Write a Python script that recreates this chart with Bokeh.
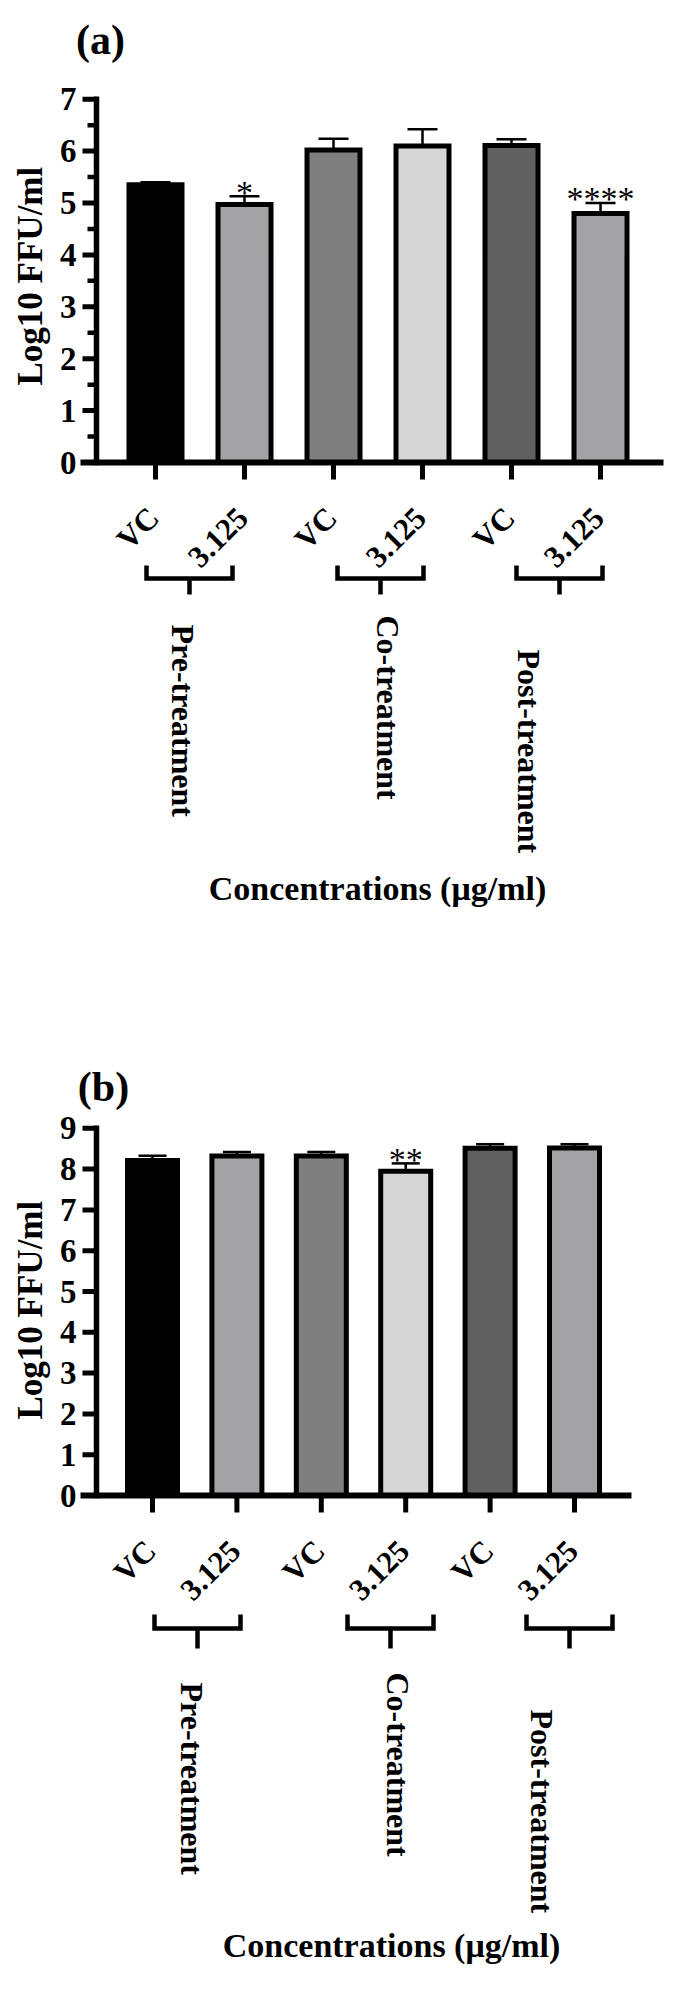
import math
from bokeh.plotting import figure
from bokeh.models import Range1d
from bokeh.core.properties import value
from bokeh.embed import file_html
from bokeh.resources import INLINE

# ---------------- data ----------------
categories = ["VC", "3.125", "VC", "3.125", "VC", "3.125"]
groups = ["Pre-treatment", "Co-treatment", "Post-treatment"]
bar_colors = ["#000000", "#a3a3a6", "#7f7f7f", "#d6d6d6", "#606060", "#a3a3a6"]

a_means = [5.35, 4.97, 6.02, 6.10, 6.11, 4.80]
a_errors = [0.05, 0.16, 0.22, 0.32, 0.12, 0.20]
a_stars = ["", "*", "", "", "", "****"]
a_yticks = [0, 1, 2, 3, 4, 5, 6, 7]

b_means = [8.21, 8.32, 8.32, 7.95, 8.51, 8.52]
b_errors = [0.12, 0.10, 0.10, 0.19, 0.10, 0.09]
b_stars = ["", "", "", "**", "", ""]
b_yticks = [0, 1, 2, 3, 4, 5, 6, 7, 8, 9]

panel_titles = ["(a)", "(b)"]
y_title = "Log10 FFU/ml"
x_title = "Concentrations (\u03bcg/ml)"

# ---------------- layout (page pixels) ----------------
W, H, OFF = 673, 1974, 8
FONT = value("Liberation Serif")

PANELS = [
    dict(rng="default", means=a_means, errs=a_errors, stars=a_stars, yticks=a_yticks, title=panel_titles[0],
         x0=163, dx=89, y0=470, sy=51.9, minor=True, axis_x=104, xl=88, xr=671, bar_px=53, cap_px=30,
         title_xy=(108, 47), ylab_x=38, ylab_bottom=393, xlab_xy=(385, 896),
         br_c=[197, 388, 567], br_hw=43, br_top=573, br_h=586, br_stem=602,
         grp_x=[190, 395, 536], grp_top=[632, 623, 657]),
    dict(rng="b", means=b_means, errs=b_errors, stars=b_stars, yticks=b_yticks, title=panel_titles[1],
         x0=160, dx=84.4, y0=1503, sy=40.8, minor=False, axis_x=104, xl=88, xr=639, bar_px=50, cap_px=28,
         title_xy=(111, 1094), ylab_x=38, ylab_bottom=1427, xlab_xy=(399, 1953),
         br_c=[205, 398, 577], br_hw=43, br_top=1622, br_h=1636, br_stem=1656,
         grp_x=[199, 405, 549], grp_top=[1690, 1680, 1717]),
]


def ranges(P):
    xs = (OFF - P["x0"]) / P["dx"]
    xe = (W + OFF - P["x0"]) / P["dx"]
    yt = (P["y0"] - OFF) / P["sy"]
    yb = (P["y0"] - OFF - H) / P["sy"]
    return Range1d(xs, xe), Range1d(yb, yt)


xa, ya = ranges(PANELS[0])
xb, yb = ranges(PANELS[1])

p = figure(width=W, height=H, x_range=xa, y_range=ya, output_backend="svg",
           toolbar_location=None, x_axis_location=None, y_axis_location=None,
           min_border=0, outline_line_color=None)
p.extra_x_ranges = {"b": xb}
p.extra_y_ranges = {"b": yb}
p.xgrid.visible = False
p.ygrid.visible = False

for P in PANELS:
    kw = dict(x_range_name=P["rng"], y_range_name=P["rng"])
    px2x = lambda X, P=P: (X - P["x0"]) / P["dx"]
    px2y = lambda Y, P=P: (P["y0"] - Y) / P["sy"]
    pxu = 1.0 / P["sy"]
    n = len(categories)
    idx = list(range(n))
    means, errs = P["means"], P["errs"]
    tops = [m + e for m, e in zip(means, errs)]
    capw = P["cap_px"] / P["dx"]

    # error bars
    p.segment(x0=idx, y0=means, x1=idx, y1=tops, line_color="black", line_width=2.5, **kw)
    p.segment(x0=[i - capw / 2 for i in idx], y0=tops, x1=[i + capw / 2 for i in idx], y1=tops,
              line_color="black", line_width=2.5, **kw)

    # bars
    p.vbar(x=idx, top=means, bottom=0, width=P["bar_px"] / P["dx"], fill_color=bar_colors,
           line_color="black", line_width=5, line_join="miter", **kw)

    # significance stars
    fs = 34
    sx = [i for i in idx if P["stars"][i]]
    p.text(x=sx, y=[tops[i] + 20 * pxu - 0.47 * fs * pxu for i in sx], text=[P["stars"][i] for i in sx],
           text_font=FONT, text_font_size=f"{fs}px", text_align="center", text_baseline="alphabetic",
           text_color="black", **kw)

    ax = px2x(P["axis_x"])
    ymax = max(P["yticks"])
    # y axis line
    p.segment(x0=[ax], y0=[0], x1=[ax], y1=[ymax], line_color="black", line_width=5.5,
              line_cap="square", **kw)
    # x axis line
    p.segment(x0=[px2x(P["xl"])], y0=[0], x1=[px2x(P["xr"])], y1=[0], line_color="black",
              line_width=6, **kw)
    # major / minor y ticks
    yt = P["yticks"]
    p.segment(x0=[px2x(90)] * len(yt), y0=yt, x1=[ax] * len(yt), y1=yt, line_color="black",
              line_width=5, **kw)
    if P["minor"]:
        mt = [t + 0.5 for t in yt[:-1]]
        p.segment(x0=[px2x(95)] * len(mt), y0=mt, x1=[ax] * len(mt), y1=mt, line_color="black",
                  line_width=4.5, **kw)
    # y tick labels
    p.text(x=[px2x(84)] * len(yt), y=yt, text=[str(t) for t in yt], text_font=FONT,
           text_font_style="bold", text_font_size="33px", text_align="right",
           text_baseline="middle", text_color="black", **kw)
    # x ticks
    p.segment(x0=idx, y0=[0] * n, x1=idx, y1=[px2y(P["y0"] + 17)] * n, line_color="black",
              line_width=5, **kw)
    # x tick labels (rotated 45 degrees)
    p.text(x=[i - 2 / P["dx"] for i in idx], y=[px2y(P["y0"] + 50)] * n, text=categories,
           angle=math.pi / 4, text_font=FONT, text_font_style="bold", text_font_size="31px",
           text_align="right", text_baseline="middle", text_color="black", **kw)

    # group brackets
    bxs, bys = [], []
    for c in P["br_c"]:
        l, r = px2x(c - P["br_hw"]), px2x(c + P["br_hw"])
        t, h = px2y(P["br_top"]), px2y(P["br_h"])
        bxs.append([l, l, r, r])
        bys.append([t, h, h, t])
        bxs.append([px2x(c), px2x(c)])
        bys.append([h, px2y(P["br_stem"])])
    p.multi_line(xs=bxs, ys=bys, line_color="black", line_width=4.5, line_join="miter", **kw)

    # group labels (reading downward)
    p.text(x=[px2x(X) for X in P["grp_x"]], y=[px2y(Y) for Y in P["grp_top"]], text=groups,
           angle=-math.pi / 2, text_font=FONT, text_font_style="bold", text_font_size="32px",
           text_align="left", text_baseline="middle", text_color="black", **kw)

    # y axis title (reading upward from its bottom end)
    p.text(x=[px2x(P["ylab_x"])], y=[px2y(P["ylab_bottom"])], text=[y_title], angle=math.pi / 2,
           text_font=FONT, text_font_style="bold", text_font_size="35px", text_align="left",
           text_baseline="middle", text_color="black", **kw)
    # x axis title
    p.text(x=[px2x(P["xlab_xy"][0])], y=[px2y(P["xlab_xy"][1])], text=[x_title],
           text_font=FONT, text_font_style="bold", text_font_size="34px", text_align="center",
           text_baseline="middle", text_color="black", **kw)
    # panel title
    p.text(x=[px2x(P["title_xy"][0])], y=[px2y(P["title_xy"][1])], text=[P["title"]],
           text_font=FONT, text_font_style="bold", text_font_size="42px", text_align="center",
           text_baseline="middle", text_color="black", **kw)

open("out.html", "w").write(file_html(p, INLINE))
